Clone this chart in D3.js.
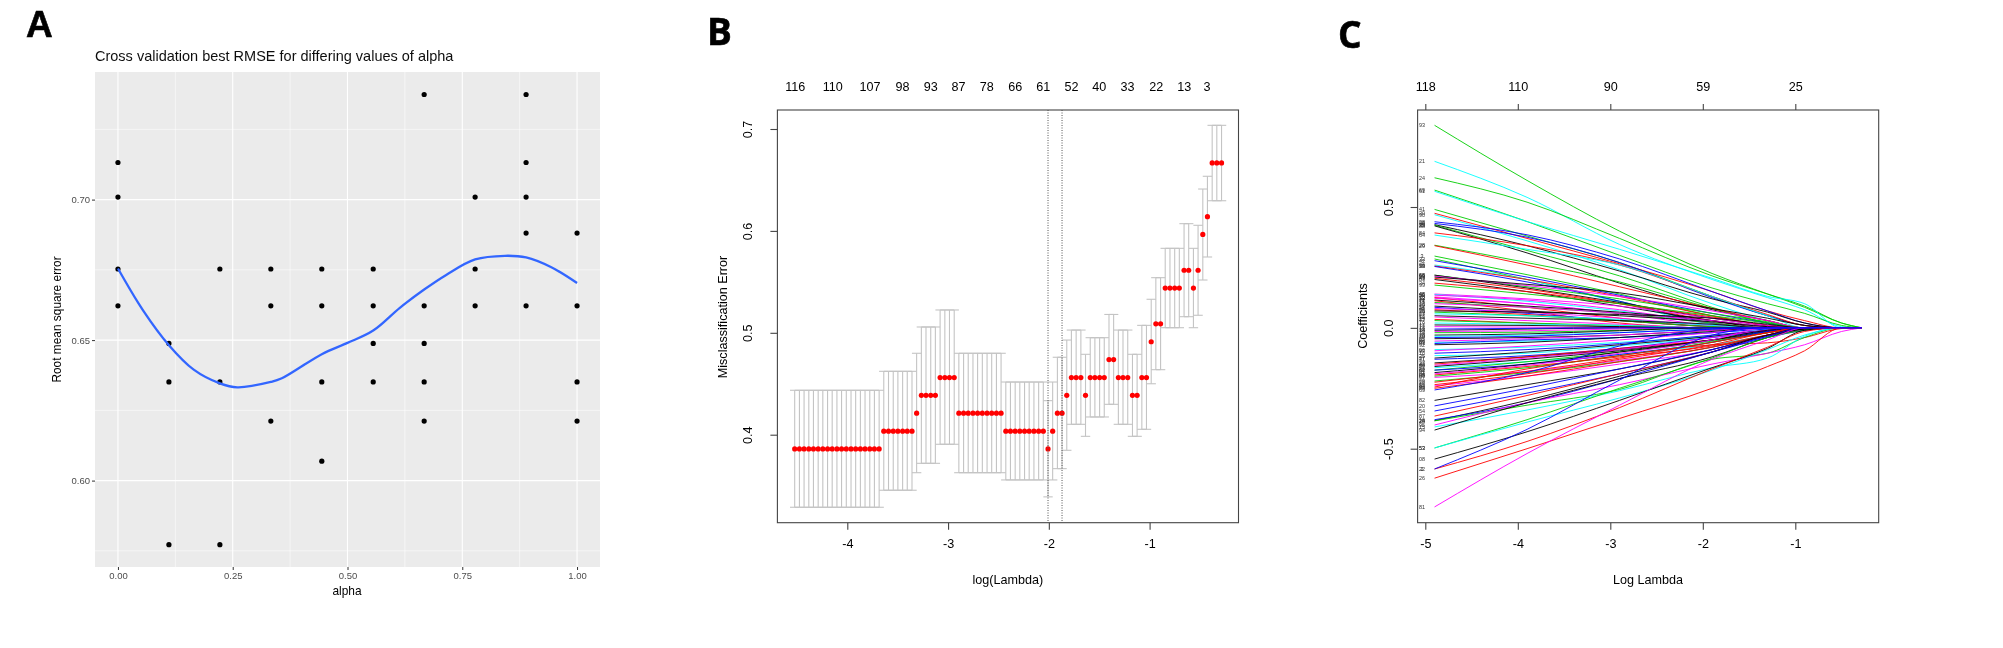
<!DOCTYPE html>
<html>
<head>
<meta charset="utf-8">
<script src="https://cdn.jsdelivr.net/npm/d3@7"></script>
<style>
  html, body { margin: 0; padding: 0; background: #fff; }
  svg { display: block; font-family: "Liberation Sans", Arial, sans-serif; }
</style>
</head>
<body>
<svg id="chart" width="2003" height="648"></svg>
<script>
// Panel A - cross validation RMSE
var alphaTicks = [0, 0.25, 0.5, 0.75, 1];
var alphaTickLabels = ["0.00", "0.25", "0.50", "0.75", "1.00"];
var alphaMinor = [0.125, 0.375, 0.625, 0.875];
var rmseTicks = [0.6, 0.65, 0.7];
var rmseTickLabels = ["0.60", "0.65", "0.70"];
var rmseMinor = [0.575, 0.625, 0.675, 0.725];
var alphaValues = [0, 0.111, 0.222, 0.333, 0.444, 0.556, 0.667, 0.778, 0.889, 1];
var rmseValues = [
    [0.7132, 0.7009, 0.6753, 0.6622],
    [0.6488, 0.6351, 0.5772],
    [0.6753, 0.6351, 0.5772],
    [0.6753, 0.6622, 0.6212],
    [0.6753, 0.6622, 0.6351, 0.6069],
    [0.6753, 0.6622, 0.6488, 0.6351],
    [0.7374, 0.6622, 0.6488, 0.6351, 0.6212],
    [0.7009, 0.6753, 0.6622],
    [0.7374, 0.7132, 0.7009, 0.6881, 0.6622],
    [0.6881, 0.6622, 0.6351, 0.6212]
];
var smoothX = [0, 0.055, 0.111, 0.165, 0.222, 0.26, 0.333, 0.357, 0.444, 0.5, 0.556, 0.614, 0.667, 0.715, 0.778, 0.843, 0.889, 0.944, 1];
var smoothY = [0.6755, 0.6605, 0.6482, 0.6395, 0.6346, 0.6332, 0.6351, 0.6364, 0.645, 0.649, 0.6534, 0.6615, 0.668, 0.6732, 0.6787, 0.68, 0.6794, 0.6759, 0.6703];

// Panel B - misclassification error by log(lambda)
var logLambda = [-4.522, -4.475, -4.429, -4.382, -4.336, -4.289, -4.243, -4.196, -4.150, -4.103, -4.057, -4.010, -3.963, -3.917, -3.870, -3.824, -3.777, -3.731, -3.684,
    -3.638, -3.591, -3.544, -3.498, -3.451, -3.405, -3.358, -3.312, -3.265, -3.219, -3.172, -3.126, -3.079, -3.032, -2.986, -2.939, -2.893, -2.846, -2.800, -2.753,
    -2.707, -2.660, -2.613, -2.567, -2.520, -2.474, -2.427, -2.381, -2.334, -2.288, -2.241, -2.195, -2.148, -2.101, -2.055, -2.008, -1.962, -1.915, -1.869, -1.822,
    -1.776, -1.729, -1.682, -1.636, -1.589, -1.543, -1.496, -1.450, -1.403, -1.357, -1.310, -1.264, -1.217, -1.170, -1.124, -1.077, -1.031, -0.984, -0.938, -0.891,
    -0.845, -0.798, -0.751, -0.705, -0.658, -0.612, -0.565, -0.519, -0.472, -0.426, -0.379, -0.333, -0.286];
// runs of neighbouring lambdas with the same error
var cvCount = [19, 7, 1, 4, 4, 10, 9, 1, 1, 2, 1, 3, 1, 4, 2, 3, 2, 2, 1, 2, 4, 2, 1, 1, 1, 1, 3];
var cvMean = [0.386, 0.4035, 0.4211, 0.4386, 0.4561, 0.4211, 0.4035, 0.386, 0.4035, 0.4211, 0.4386, 0.4561, 0.4386, 0.4561, 0.4737, 0.4561, 0.4386, 0.4561, 0.4912, 0.5088, 0.5439, 0.5614, 0.5439, 0.5614, 0.5965, 0.614, 0.6667];
var cvUpper = [0.4436, 0.4622, 0.4799, 0.5057, 0.5224, 0.4799, 0.4517, 0.4334, 0.4517, 0.476, 0.4929, 0.5027, 0.4789, 0.4952, 0.518, 0.5027, 0.4789, 0.5073, 0.5329, 0.5541, 0.5829, 0.6071, 0.5829, 0.6055, 0.6411, 0.6536, 0.7036];
var cvLower = [0.3288, 0.3455, 0.3627, 0.3719, 0.3906, 0.3627, 0.3556, 0.339, 0.3556, 0.3667, 0.3847, 0.4102, 0.3984, 0.4174, 0.4298, 0.4102, 0.3984, 0.4053, 0.45, 0.4638, 0.505, 0.5158, 0.505, 0.5172, 0.5518, 0.5744, 0.6296];
var cvTopAt = [-4.517, -4.145, -3.774, -3.452, -3.172, -2.896, -2.616, -2.332, -2.056, -1.776, -1.5, -1.22, -0.935, -0.655, -0.43];
var cvTopLabels = ["116", "110", "107", "98", "93", "87", "78", "66", "61", "52", "40", "33", "22", "13", "3"];
var cvXTicks = [-4, -3, -2, -1];
var cvXTickLabels = ["-4", "-3", "-2", "-1"];
var cvYTicks = [0.4, 0.5, 0.6, 0.7];
var cvYTickLabels = ["0.4", "0.5", "0.6", "0.7"];
var cvLambdaLines = [-2.008, -1.869];

// Panel C - coefficient paths
var pathKnots = [-4.9, -3.9, -2.9, -1.9, -1.3, -0.9, -0.5, -0.28];
var pathXTicks = [-5, -4, -3, -2, -1];
var pathXTickLabels = ["-5", "-4", "-3", "-2", "-1"];
var pathTopLabels = ["118", "110", "90", "59", "25"];
var pathYTicks = [-0.5, 0, 0.5];
var pathYTickLabels = ["-0.5", "0.0", "0.5"];
var pathColors = { k: "#000000", r: "#ff0000", g: "#00cd00", b: "#0000ff", c: "#00ffff", m: "#ff00ff" };
// label, colour, then the coefficient at each knot (zero once the list ends)
var coefPaths = [
    ["93", "g", 0.838, 0.61, 0.40, 0.225, 0.14, 0.085, 0.02],
    ["21", "c", 0.689, 0.54, 0.345, 0.2, 0.125, 0.075, 0.005],
    ["24", "g", 0.621, 0.52, 0.37, 0.215, 0.14, 0.09, 0.02],
    ["69", "g", 0.570, 0.44, 0.30, 0.165, 0.10, 0.06, 0.01],
    ["61", "c", 0.565, 0.44, 0.325, 0.205, 0.13, 0.10],
    ["41", "g", 0.490, 0.38, 0.27, 0.13, 0.05, 0.01],
    ["30", "r", 0.474, 0.37, 0.265, 0.15, 0.07, 0.03],
    ["90", "c", 0.468, 0.36, 0.24, 0.10, 0.03],
    ["38", "b", 0.439, 0.385, 0.285, 0.15, 0.07, 0.02],
    ["98", "b", 0.432, 0.375, 0.27, 0.125, 0.05, 0.01],
    ["35", "k", 0.427, 0.34, 0.235, 0.12, 0.065, 0.02],
    ["39", "g", 0.425, 0.32, 0.215, 0.085, 0.02],
    ["88", "k", 0.422, 0.31, 0.185, 0.075, 0.03],
    ["84", "r", 0.393, 0.34, 0.26, 0.13, 0.055, 0.01],
    ["64", "c", 0.384, 0.325, 0.26, 0.13, 0.05],
    ["28", "g", 0.342, 0.27, 0.19, 0.08, 0.02],
    ["29", "r", 0.340, 0.26, 0.17, 0.08, 0.03],
    ["3", "g", 0.297, 0.22, 0.14, 0.05, 0.01],
    ["32", "g", 0.285, 0.20, 0.11, 0.02],
    ["42", "b", 0.278, 0.21, 0.135, 0.06, 0.02],
    ["36", "c", 0.26, 0.20, 0.105, 0.015],
    ["58", "r", 0.256, 0.20, 0.13, 0.05, 0.01],
    ["33", "b", 0.254, 0.19, 0.11, 0.02],
    ["66", "g", 0.218, 0.17, 0.12, 0.06, 0.025],
    ["68", "k", 0.218, 0.165, 0.105, 0.04, 0.01],
    ["63", "m", 0.214, 0.175, 0.13, 0.07, 0.03],
    ["23", "k", 0.21, 0.18, 0.145, 0.08, 0.04, 0.01],
    ["43", "r", 0.205, 0.16, 0.10, 0.03],
    ["83", "k", 0.20, 0.15, 0.09, 0.03],
    ["34", "r", 0.185, 0.15, 0.10, 0.045, 0.01],
    ["99", "g", 0.177, 0.14, 0.10, 0.05, 0.02],
    ["46", "m", 0.14, 0.12, 0.09, 0.04, 0.01],
    ["48", "c", 0.138, 0.11, 0.07, 0.02],
    ["56", "m", 0.135, 0.115, 0.075, 0.02],
    ["76", "m", 0.128, 0.10, 0.06, 0.01],
    ["73", "r", 0.125, 0.085, 0.04, 0.005],
    ["52", "m", 0.122, 0.10, 0.06, 0.02],
    ["71", "k", 0.115, 0.09, 0.065, 0.03, 0.005],
    ["77", "r", 0.112, 0.07, 0.02],
    ["55", "g", 0.105, 0.085, 0.06, 0.02],
    ["18", "m", 0.10, 0.085, 0.06, 0.03, 0.005],
    ["72", "k", 0.09, 0.07, 0.05, 0.025, 0.005],
    ["57", "b", 0.085, 0.06, 0.03, 0.005],
    ["45", "m", 0.08, 0.065, 0.04, 0.01],
    ["65", "r", 0.075, 0.055, 0.03, 0.005],
    ["75", "k", 0.07, 0.065, 0.055, 0.04, 0.015],
    ["49", "g", 0.065, 0.05, 0.03, 0.005],
    ["67", "c", 0.058, 0.05, 0.035, 0.01],
    ["17", "k", 0.05, 0.04, 0.03, 0.015],
    ["59", "m", 0.045, 0.03, 0.015],
    ["15", "r", 0.035, 0.02, 0.005],
    ["47", "g", 0.03, 0.02, 0.01],
    ["19", "c", 0.02, 0.015, 0.01],
    ["11", "k", 0.012, 0.01, 0.005],
    ["12", "m", 0.005, 0.003],
    ["14", "k", -0.01, -0.005],
    ["70", "m", -0.015, -0.012, -0.005],
    ["74", "g", -0.02, -0.018, -0.01],
    ["78", "k", -0.03, -0.025, -0.012],
    ["79", "c", -0.035, -0.03, -0.02, -0.005],
    ["80", "b", -0.04, -0.035, -0.02, -0.005],
    ["85", "k", -0.045, -0.04, -0.03, -0.01],
    ["86", "m", -0.055, -0.045, -0.03, -0.01],
    ["89", "c", -0.06, -0.055, -0.04, -0.02, -0.005],
    ["91", "b", -0.065, -0.05, -0.04, -0.02, -0.005],
    ["92", "k", -0.07, -0.06, -0.04, -0.015],
    ["96", "c", -0.09, -0.08, -0.06, -0.035, -0.015],
    ["97", "m", -0.095, -0.075, -0.05, -0.02],
    ["10", "b", -0.105, -0.09, -0.065, -0.03, -0.01],
    ["25", "c", -0.115, -0.105, -0.075, -0.04, -0.015],
    ["27", "k", -0.125, -0.10, -0.07, -0.035, -0.01],
    ["31", "b", -0.13, -0.115, -0.085, -0.04, -0.012],
    ["37", "k", -0.145, -0.12, -0.09, -0.05, -0.02],
    ["40", "r", -0.15, -0.12, -0.085, -0.05, -0.02],
    ["44", "m", -0.155, -0.125, -0.09, -0.04, -0.01],
    ["50", "k", -0.16, -0.13, -0.095, -0.05, -0.015],
    ["51", "c", -0.165, -0.14, -0.11, -0.07, -0.03],
    ["60", "g", -0.175, -0.14, -0.10, -0.055, -0.02],
    ["62", "b", -0.175, -0.15, -0.11, -0.06, -0.015],
    ["01", "k", -0.185, -0.15, -0.10, -0.05, -0.01],
    ["04", "m", -0.19, -0.155, -0.105, -0.05],
    ["05", "r", -0.195, -0.16, -0.12, -0.075, -0.03, -0.01],
    ["06", "g", -0.20, -0.165, -0.115, -0.06, -0.02],
    ["07", "m", -0.205, -0.18, -0.135, -0.08, -0.03],
    ["09", "g", -0.22, -0.185, -0.14, -0.08, -0.03],
    ["16", "r", -0.225, -0.18, -0.125, -0.06, -0.02],
    ["55", "r", -0.235, -0.19, -0.13, -0.07, -0.02],
    ["87", "m", -0.24, -0.20, -0.15, -0.09, -0.03],
    ["99", "r", -0.245, -0.17, -0.115, -0.07, -0.062, -0.04, -0.003],
    ["89", "r", -0.25, -0.20, -0.14, -0.08, -0.03],
    ["69", "b", -0.257, -0.185, -0.075, -0.005],
    ["82", "k", -0.30, -0.235, -0.17, -0.09, -0.03],
    ["20", "b", -0.323, -0.25, -0.17, -0.09, -0.035, -0.005],
    ["54", "b", -0.344, -0.27, -0.19, -0.10, -0.04, -0.01],
    ["87", "r", -0.365, -0.28, -0.19, -0.10, -0.03, -0.005],
    ["28", "k", -0.384, -0.30, -0.20, -0.10, -0.03, -0.005],
    ["16", "b", -0.38, -0.31, -0.21, -0.10, -0.035],
    ["24", "g", -0.385, -0.32, -0.255, -0.13, -0.105, -0.04],
    ["95", "m", -0.402, -0.31, -0.235, -0.15, -0.105, -0.07, -0.015],
    ["15", "c", -0.41, -0.34, -0.26, -0.165, -0.125, -0.035],
    ["94", "k", -0.423, -0.31, -0.21, -0.12, -0.04, -0.005],
    ["53", "g", -0.497, -0.38, -0.25, -0.125, -0.04, -0.01],
    ["53", "c", -0.497, -0.39, -0.29, -0.175, -0.09, -0.03],
    ["08", "k", -0.543, -0.43, -0.30, -0.165, -0.085, -0.01],
    ["2", "r", -0.584, -0.47, -0.33, -0.17, -0.08, -0.015],
    ["26", "r", -0.622, -0.50, -0.375, -0.25, -0.16, -0.095],
    ["81", "m", -0.741, -0.52, -0.32, -0.13, -0.05],
    ["22", "b", -0.584, -0.42, -0.216, -0.03],
    ["13", "b", -0.005, -0.002]
];

var svg = d3.select("#chart");

// the source figure is a slightly soft raster
svg.append("defs").append("filter")
    .attr("id", "soft")
    .attr("filterUnits", "userSpaceOnUse")
    .attr("x", 0).attr("y", 0).attr("width", 2003).attr("height", 648)
    .append("feGaussianBlur")
    .attr("stdDeviation", 0.45);

var root = svg.append("g").attr("filter", "url(#soft)");

function panelLetter(txt, x, y, family) {
    root.append("text")
        .attr("x", x).attr("y", y)
        .style("font-family", family)
        .style("font-weight", 700)
        .style("font-size", "37px")
        .attr("fill", "#000")
        .attr("stroke", "#000")
        .attr("stroke-width", 0.6)
        .text(txt);
}

function addText(txt, x, y, size, color, rotate) {
    var t = root.append("text")
        .attr("text-anchor", "middle")
        .style("font-size", size + "px")
        .attr("fill", color)
        .text(txt);
    if (rotate) {
        t.attr("transform", "translate(" + x + "," + y + ") rotate(-90)");
    } else {
        t.attr("x", x).attr("y", y);
    }
    return t;
}

//==========================================================================================================
// Panel A
function drawPanelA() {
    var x = d3.scaleLinear().domain([-0.05, 1.05]).range([95, 600]);
    var y = d3.scaleLinear().domain([0.6, 0.7]).range([480.6, 199.6]);

    root.append("rect")
        .attr("x", 95).attr("y", 72)
        .attr("width", 505).attr("height", 495)
        .attr("fill", "#ebebeb");

    var grid = root.append("g").attr("stroke", "#fff").attr("fill", "none");
    grid.selectAll("line.minx").data(alphaMinor).join("line").attr("class", "minx")
        .attr("x1", x).attr("x2", x).attr("y1", 72).attr("y2", 567).attr("stroke-width", 0.55);
    grid.selectAll("line.miny").data(rmseMinor).join("line").attr("class", "miny")
        .attr("y1", y).attr("y2", y).attr("x1", 95).attr("x2", 600).attr("stroke-width", 0.55);
    grid.selectAll("line.majx").data(alphaTicks).join("line").attr("class", "majx")
        .attr("x1", x).attr("x2", x).attr("y1", 72).attr("y2", 567).attr("stroke-width", 1.1);
    grid.selectAll("line.majy").data(rmseTicks).join("line").attr("class", "majy")
        .attr("y1", y).attr("y2", y).attr("x1", 95).attr("x2", 600).attr("stroke-width", 1.1);

    var xAxis = d3.axisBottom(x).tickValues(alphaTicks).tickSize(3).tickPadding(2)
        .tickFormat(function (d, i) { return alphaTickLabels[i]; });
    var yAxis = d3.axisLeft(y).tickValues(rmseTicks).tickSize(3).tickPadding(2)
        .tickFormat(function (d, i) { return rmseTickLabels[i]; });

    var gx = root.append("g").attr("transform", "translate(0,567)").call(xAxis);
    var gy = root.append("g").attr("transform", "translate(95,0)").call(yAxis);
    [gx, gy].forEach(function (g) {
        g.select(".domain").remove();
        g.selectAll("line").attr("stroke", "#333");
        g.selectAll("text").attr("fill", "#4d4d4d")
            .style("font-size", "9.5px")
            .style("font-family", "'Liberation Sans'");
    });

    alphaValues.forEach(function (a, i) {
        root.selectAll("circle.p" + i).data(rmseValues[i]).join("circle")
            .attr("class", "p" + i)
            .attr("cx", x(a))
            .attr("cy", y)
            .attr("r", 2.6)
            .attr("fill", "#000");
    });

    var smooth = d3.line()
        .x(function (d) { return x(d); })
        .y(function (d, i) { return y(smoothY[i]); })
        .curve(d3.curveCatmullRom);
    root.append("path")
        .attr("d", smooth(smoothX))
        .attr("fill", "none")
        .attr("stroke", "#3366ff")
        .attr("stroke-width", 2.3);

    root.append("text").attr("x", 95).attr("y", 61)
        .style("font-size", "14.5px").attr("fill", "#111")
        .text("Cross validation best RMSE for differing values of alpha");
    addText("alpha", 347, 595, 11.9, "#000");
    addText("Root mean square error", 61, 319.5, 11.9, "#000", true);
}

//==========================================================================================================
// Panel B
function drawPanelB() {
    var x = d3.scaleLinear().domain([-4, -1]).range([847.3, 1149.6]);
    var y = d3.scaleLinear().domain([0.4, 0.7]).range([434.7, 129]);
    var capHalf = 0.0466;

    // expand the runs into one row per lambda
    var rows = [];
    var k = 0;
    cvCount.forEach(function (n, i) {
        for (var j = 0; j < n; j += 1) {
            rows.push({ x: logLambda[k], m: cvMean[i], up: cvUpper[i], lo: cvLower[i] });
            k += 1;
        }
    });

    var bars = root.append("g").attr("stroke", "#c4c4c4").attr("stroke-width", 1.1).attr("fill", "none");
    bars.selectAll("line.v").data(rows).join("line").attr("class", "v")
        .attr("x1", function (d) { return x(d.x); })
        .attr("x2", function (d) { return x(d.x); })
        .attr("y1", function (d) { return y(d.up); })
        .attr("y2", function (d) { return y(d.lo); });
    bars.selectAll("line.u").data(rows).join("line").attr("class", "u")
        .attr("x1", function (d) { return x(d.x - capHalf); })
        .attr("x2", function (d) { return x(d.x + capHalf); })
        .attr("y1", function (d) { return y(d.up); })
        .attr("y2", function (d) { return y(d.up); });
    bars.selectAll("line.l").data(rows).join("line").attr("class", "l")
        .attr("x1", function (d) { return x(d.x - capHalf); })
        .attr("x2", function (d) { return x(d.x + capHalf); })
        .attr("y1", function (d) { return y(d.lo); })
        .attr("y2", function (d) { return y(d.lo); });

    root.selectAll("circle.cv").data(rows).join("circle").attr("class", "cv")
        .attr("cx", function (d) { return x(d.x); })
        .attr("cy", function (d) { return y(d.m); })
        .attr("r", 2.6)
        .attr("fill", "#ff0000");

    root.selectAll("line.lam").data(cvLambdaLines).join("line").attr("class", "lam")
        .attr("x1", x).attr("x2", x).attr("y1", 110).attr("y2", 522.7)
        .attr("stroke", "#555").attr("stroke-width", 1).attr("stroke-dasharray", "1,1.5");

    root.append("rect")
        .attr("x", 777.4).attr("y", 110).attr("width", 461.1).attr("height", 412.7)
        .attr("fill", "none").attr("stroke", "#444").attr("stroke-width", 1.1);

    rAxes(x, y, cvXTicks, cvXTickLabels, cvYTicks, cvYTickLabels, 522.7, 777.4);

    cvTopAt.forEach(function (d, i) {
        addText(cvTopLabels[i], x(d), 91.3, 12.6, "#000");
    });
    addText("log(Lambda)", 1007.8, 584, 12.6, "#000");
    addText("Misclassification Error", 726.5, 317, 12.6, "#000", true);
}

// base R style axes: ticks below and left, y labels turned on their side
function rAxes(x, y, xTicks, xLabels, yTicks, yLabels, bottom, left) {
    var xAxis = d3.axisBottom(x).tickValues(xTicks).tickSize(7).tickPadding(9)
        .tickFormat(function (d, i) { return xLabels[i]; });
    var yAxis = d3.axisLeft(y).tickValues(yTicks).tickSize(7).tickPadding(0)
        .tickFormat(function (d, i) { return yLabels[i]; });
    var gx = root.append("g").attr("transform", "translate(0," + bottom + ")").call(xAxis);
    var gy = root.append("g").attr("transform", "translate(" + left + ",0)").call(yAxis);
    [gx, gy].forEach(function (g) {
        g.select(".domain").remove();
        g.selectAll("line").attr("stroke", "#444").attr("stroke-width", 1.1);
        g.selectAll("text").attr("fill", "#000")
            .style("font-size", "12.6px")
            .style("font-family", "'Liberation Sans'");
    });
    gy.selectAll("text")
        .attr("x", null).attr("dy", null)
        .attr("text-anchor", "middle")
        .attr("transform", "translate(-25,0) rotate(-90)");
}

//==========================================================================================================
// Panel C
function drawPanelC() {
    var x = d3.scaleLinear().domain([-5, -1]).range([1425.3, 1795.3]);
    var y = d3.scaleLinear().domain([-0.5, 0.5]).range([448.7, 207]);

    var line = d3.line()
        .x(function (d) { return x(d.k); })
        .y(function (d) { return y(d.v); })
        .curve(d3.curveMonotoneX);

    root.append("g").attr("fill", "none").attr("stroke-width", 0.9)
        .selectAll("path").data(coefPaths).join("path")
        .attr("stroke", function (d) { return pathColors[d[1]]; })
        .attr("d", function (d) {
            return line(pathKnots.map(function (k, i) {
                var v = d[i + 2];
                return { k: k, v: v === undefined ? 0 : v };
            }));
        });

    root.append("g").selectAll("text").data(coefPaths).join("text")
        .attr("x", 1422)
        .attr("y", function (d) { return y(d[2]) + 1.9; })
        .attr("text-anchor", "middle")
        .style("font-size", "5.4px")
        .attr("fill", "#333")
        .text(function (d) { return d[0]; });

    root.append("rect")
        .attr("x", 1417.6).attr("y", 110).attr("width", 461.1).attr("height", 412.7)
        .attr("fill", "none").attr("stroke", "#444").attr("stroke-width", 1.1);

    rAxes(x, y, pathXTicks, pathXTickLabels, pathYTicks, pathYTickLabels, 522.7, 1417.6);

    var top = d3.axisTop(x).tickValues(pathXTicks).tickSize(6).tickPadding(13)
        .tickFormat(function (d, i) { return pathTopLabels[i]; });
    var gt = root.append("g").attr("transform", "translate(0,110)").call(top);
    gt.select(".domain").remove();
    gt.selectAll("line").attr("stroke", "#444").attr("stroke-width", 1.1);
    gt.selectAll("text").attr("fill", "#000")
        .style("font-size", "12.6px")
        .style("font-family", "'Liberation Sans'");

    addText("Log Lambda", 1648, 584, 12.6, "#000");
    addText("Coefficients", 1367, 316, 12.6, "#000", true);
}

drawPanelA();
drawPanelB();
drawPanelC();
panelLetter("A", 26, 37, "'Liberation Sans'");
panelLetter("B", 707, 44.6, "'Open Sans'");
panelLetter("C", 1338, 48, "'Open Sans'");
</script>
</body>
</html>
